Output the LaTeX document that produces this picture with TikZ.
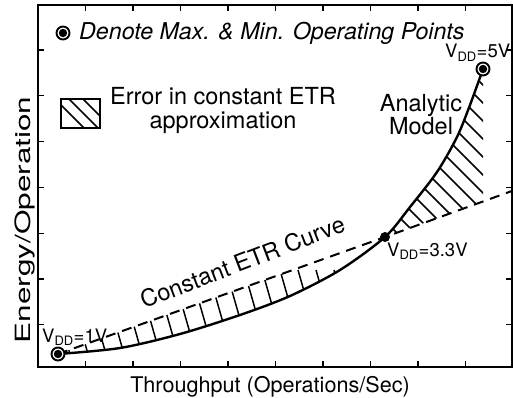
\documentclass[tikz,border=0pt]{standalone}
\usepackage{fontspec}
\setmainfont{TeX Gyre Heros}
\usepackage{graphicx}
\usepackage{tikz}
\usetikzlibrary{positioning, calc}

\begin{document}
\begin{tikzpicture}[
    x=1pt, y=-1pt,
    axis/.style={line width=1.8pt},
    tick/.style={line width=1.2pt},
    model/.style={line width=2.4pt},
    etr/.style={line width=2pt, dash pattern=on 10pt off 7pt},
    hatch/.style={line width=1.5pt},
    annot/.style={font=\fontsize{23.5}{24}\selectfont, inner sep=0pt},
    vdd/.style={font=\fontsize{18.5}{20}\selectfont, inner sep=0pt, anchor=base west},
    endpoint/.style={circle, draw, line width=1.9pt, fill=white, minimum size=13pt, inner sep=0pt,
        path picture={\fill[black] (path picture bounding box.center) circle (4.2pt);}},
    midpoint/.style={circle, fill, minimum size=10pt, inner sep=0pt}
]
    \useasboundingbox (0,0) rectangle (513,398);

    % Operating points
    \coordinate (pmin) at (58,354);
    \coordinate (pmid) at (385,237);
    \coordinate (pmax) at (483,69);
    \coordinate (etrend) at (513,190.6);
    \coordinate (hatchend) at (483,201.9);

    % Axes box and ticks
    \draw[axis] (38,5) rectangle (512,367);
    \foreach \x in {85.5,133,...,466}{
        \draw[tick] (\x,367) -- (\x,361);
        \draw[tick] (\x,5) -- (\x,11);
    }
    \foreach \y in {50,95.8,...,326}{
        \draw[tick] (38,\y) -- (44,\y);
        \draw[tick] (512,\y) -- (506,\y);
    }

    % Error hatching
    \begin{scope}
        \clip plot[smooth] coordinates {(pmin) (120,348) (180,334) (240,315) (290,296) (340,270) (pmid)} -- cycle;
        \foreach \x in {66,84,...,400}
            \draw[hatch] (\x-20,270) -- (\x+20,410);
    \end{scope}
    \begin{scope}
        \clip plot[smooth] coordinates {(pmid) (410,207) (437,172) (457,137) (470,105) (pmax)} -- (hatchend) -- cycle;
        \foreach \c in {-416,-398,...,-140}
            \draw[hatch] (300,300+\c) -- (520,520+\c);
    \end{scope}

    % Curves
    \draw[etr] (pmin) -- (pmid) -- (etrend);
    \draw[model] plot[smooth] coordinates {(pmin) (120,348) (180,334) (240,315) (290,296) (340,270) (pmid) (410,207) (437,172) (457,137) (470,105) (pmax)};

    % Markers
    \node[endpoint] (vmin) at (pmin) {};
    \node[midpoint] (vmid) at (pmid) {};
    \node[endpoint] (vmax) at (pmax) {};
    \node[vdd] (lmin) at (42,342) {V\textsubscript{DD}=1V};
    \node[vdd] (lmid) at (387,256) {V\textsubscript{DD}=3.3V};
    \node[vdd] (lmax) at (445,58) {V\textsubscript{DD}=5V};

    % Curve labels
    \node[annot, align=center, font=\fontsize{23.5}{22}\selectfont] (model) at (421,114.5) {Analytic\\Model};
    \node[annot, rotate=21, anchor=base west] (etrlabel) at (144,309) {Constant ETR Curve};

    % Legend
    \node[endpoint] (legmark) at (63,33) {};
    \node[annot, anchor=base west, font=\fontsize{23.2}{24}\selectfont\itshape] (legtext) at (79,40) {Denote Max. \& Min. Operating Points};
    \node[draw, line width=1.4pt, minimum width=39pt, minimum height=29pt, inner sep=0pt] (legbox) at (80.5,113.5) {};
    \begin{scope}
        \clip (legbox.north west) rectangle (legbox.south east);
        \foreach \c in {16,30,44}
            \draw[hatch] (40,40+\c) -- (120,120+\c);
    \end{scope}
    \node[annot, align=center] (legerr) at (223,110) {Error in constant ETR\\approximation};

    % Axis labels
    \node[annot, anchor=base, font=\fontsize{21.6}{24}\selectfont] (xlabel) at (270,392) {Throughput (Operations/Sec)};
    \node[annot, anchor=base, rotate=90, font=\fontsize{21}{24}\selectfont] (ylabel) at (30,220) {\scalebox{1.5}[1]{Energy/Operation}};
\end{tikzpicture}
\end{document}
